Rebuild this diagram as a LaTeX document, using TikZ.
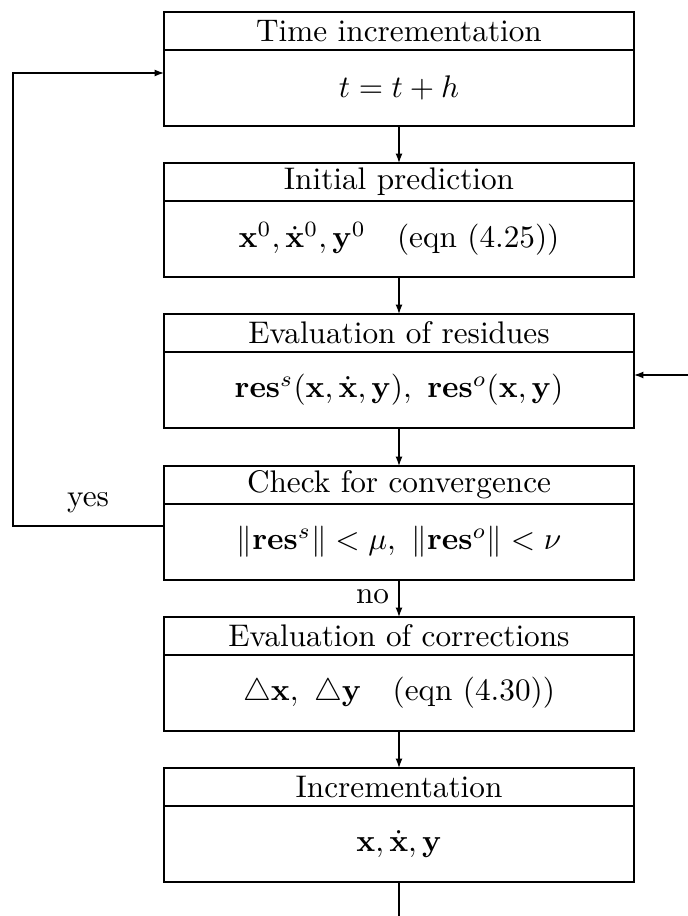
\documentclass[tikz,border=0pt]{standalone}
\usetikzlibrary{arrows.meta,calc}
\begin{document}
\begin{tikzpicture}[x=0.32pt,y=-0.32pt,
  stepbox/.style={draw,line width=0.45pt,minimum width=150.4pt,minimum height=36.48pt,
                  inner sep=0pt,outer sep=0pt},
  divider/.style={line width=0.8pt},
  heading/.style={inner sep=0pt,anchor=center},
  content/.style={inner sep=0pt,anchor=center},
  flow/.style={line width=0.4pt,-{Latex[length=3pt,width=2.2pt]}},
  plain/.style={line width=0.4pt},
  lbl/.style={inner sep=0pt}]
\useasboundingbox (0,0) rectangle (688,916);

% the six stages of the step
\node[stepbox] (b1) at (399,69)  {};
\node[stepbox] (b2) at (399,220) {};
\node[stepbox] (b3) at (399,371) {};
\node[stepbox] (b4) at (399,523) {};
\node[stepbox] (b5) at (399,674) {};
\node[stepbox] (b6) at (399,825) {};

% headings, dividers and contents
\foreach \b/\t in {b1/Time incrementation, b2/Initial prediction, b3/Evaluation of residues,
                   b4/Check for convergence, b5/Evaluation of corrections, b6/Incrementation}{
  \node[heading] (\b-head) at ($(\b.north)+(0,19)$) {\t};
  \draw[divider] ($(\b.north west)+(0,38)$) -- ($(\b.north east)+(0,38)$);
}
\node[content] (c1) at ($(b1.north)+(0,76)$) {$t=t+h$};
\node[content] (c2) at ($(b2.north)+(0,76)$)
  {$\mathbf{x}^0,\dot{\mathbf{x}}^0,\mathbf{y}^0\quad\mbox{(eqn (4.25))}$};
\node[content] (c3) at ($(b3.north)+(0,76)$)
  {$\mathbf{res}^s(\mathbf{x},\dot{\mathbf{x}},\mathbf{y}),\ \mathbf{res}^o(\mathbf{x},\mathbf{y})$};
\node[content] (c4) at ($(b4.north)+(0,76)$)
  {$\|\mathbf{res}^s\|<\mu,\ \|\mathbf{res}^o\|<\nu$};
\node[content] (c5) at ($(b5.north)+(0,76)$)
  {$\triangle\mathbf{x},\ \triangle\mathbf{y}\quad\mbox{(eqn (4.30))}$};
\node[content] (c6) at ($(b6.north)+(0,76)$) {$\mathbf{x},\dot{\mathbf{x}},\mathbf{y}$};

% main flow
\draw[flow] (b1.south) -- (b2.north);
\draw[flow] (b2.south) -- (b3.north);
\draw[flow] (b3.south) -- (b4.north);
\draw[flow] (b4.south) -- node[lbl,left=3pt,pos=0.45] {no} (b5.north);
\draw[flow] (b5.south) -- (b6.north);
\coordinate (out) at (399,916);
\draw[plain] (b6.south) -- (out);

% return into the residue evaluation
\coordinate (back) at (688,375);
\draw[flow] (back) -- (back -| b3.east);

% converged: go to the next time step
\coordinate (yesfrom) at (b4.west |- 0,526);
\coordinate (loopL) at (13,526);
\coordinate (loopT) at (13,73);
\draw[flow] (yesfrom) -- (loopL) -- (loopT) -- (loopT -| b1.west);
\node[lbl] (yes) at (88,503) {yes};
\end{tikzpicture}
\end{document}
